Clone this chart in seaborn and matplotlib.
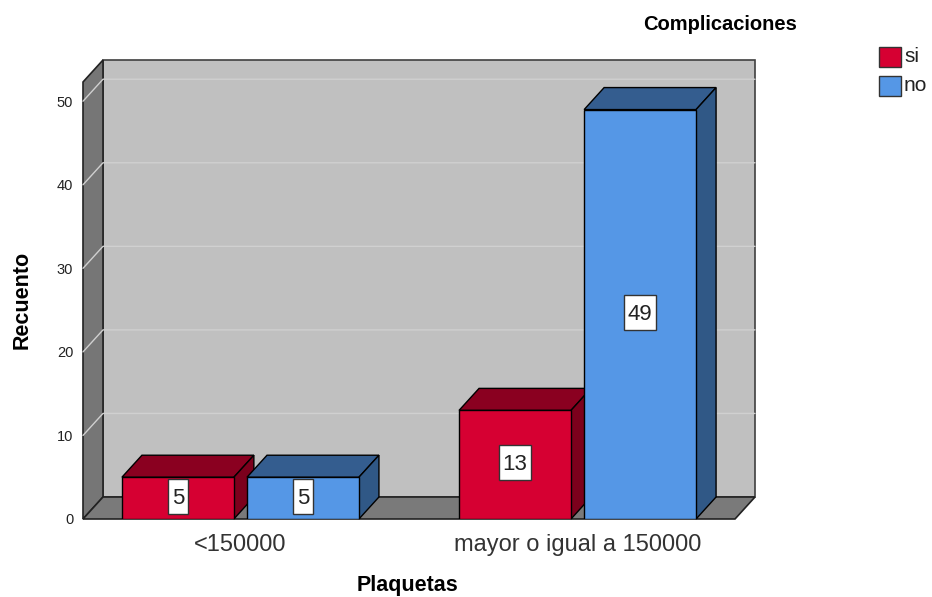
import matplotlib
matplotlib.use("Agg")
import matplotlib.pyplot as plt
from matplotlib.patches import Polygon, Rectangle
import seaborn as sns
import pandas as pd

# ---- data ----
plaquetas = ["<150000", "<150000", "mayor o igual a 150000", "mayor o igual a 150000"]
complicaciones = ["si", "no", "si", "no"]
recuento = [5, 5, 13, 49]
hue_order = ["si", "no"]
categories = ["<150000", "mayor o igual a 150000"]
y_ticks = [0, 10, 20, 30, 40, 50]

df = pd.DataFrame({"Plaquetas": plaquetas,
                   "Complicaciones": complicaciones,
                   "Recuento": recuento})

face = {"si": "#d60032", "no": "#5597e6"}
top_col = {"si": "#8a0020", "no": "#345d8f"}
side_col = {"si": "#7c001c", "no": "#305886"}

sns.set_theme(style="white")
plt.rcParams["font.family"] = ["Liberation Sans", "DejaVu Sans"]

W, H = 932, 597
fig = plt.figure(figsize=(W / 100, H / 100), dpi=100)

# front plane of the 3D box in pixels
px_l, px_r, py_b, py_t = 83, 735, 519, 82
ax = fig.add_axes([px_l / W, 1 - py_b / H, (px_r - px_l) / W, (py_b - py_t) / H])
ax.set_facecolor("none")

sns.barplot(data=df, x="Plaquetas", y="Recuento", hue="Complicaciones",
            order=categories, hue_order=hue_order, palette=face, saturation=1,
            width=0.742, gap=0.105, edgecolor="black", linewidth=1.0,
            legend=False, ax=ax)

x0, x1 = -0.467, 1.467
ytop = 52.3
ax.set_xlim(x0, x1)
ax.set_ylim(0, ytop)

# depth offset (data units): 20 px right, 22 px up
dx = 20 / (px_r - px_l) * (x1 - x0)
dy = 22 / (py_b - py_t) * ytop

wall_kw = dict(clip_on=False, zorder=0.5)
# back wall
ax.add_patch(Rectangle((x0 + dx, dy), (x1 - x0), ytop, facecolor="#c0c0c0",
                       edgecolor="#404040", linewidth=1.2, **wall_kw))
# left wall
ax.add_patch(Polygon([(x0, 0), (x0, ytop), (x0 + dx, ytop + dy), (x0 + dx, dy)],
                     closed=True, facecolor="#767676", edgecolor="#222222",
                     linewidth=1.2, **wall_kw))
# grid lines on left and back walls
for v in y_ticks[1:]:
    ax.plot([x0, x0 + dx, x1 + dx], [v, v + dy, v + dy], color="#d0d0d0",
            linewidth=1.0, clip_on=False, zorder=0.6)
# floor
ax.add_patch(Polygon([(x0, 0), (x1, 0), (x1 + dx, dy), (x0 + dx, dy)],
                     closed=True, facecolor="#7a7a7a", edgecolor="#222222",
                     linewidth=1.2, clip_on=False, zorder=0.7))

bars = sorted([p for p in ax.patches if isinstance(p, Rectangle) and p.get_height() > 0
               and p.get_width() < 0.5], key=lambda p: p.get_x())
hues_sorted = [h for _ in categories for h in hue_order]

labels = []
for i, (bar, hue) in enumerate(zip(bars, hues_sorted)):
    z = 2 + i
    bx, bw, bh = bar.get_x(), bar.get_width(), bar.get_height()
    bar.set_zorder(z + 0.3)
    ax.add_patch(Polygon([(bx, bh), (bx + dx, bh + dy), (bx + bw + dx, bh + dy), (bx + bw, bh)],
                         closed=True, facecolor=top_col[hue], edgecolor="black",
                         linewidth=1.0, clip_on=False, zorder=z))
    ax.add_patch(Polygon([(bx + bw, 0), (bx + bw, bh), (bx + bw + dx, bh + dy), (bx + bw + dx, dy)],
                         closed=True, facecolor=side_col[hue], edgecolor="black",
                         linewidth=1.0, clip_on=False, zorder=z))
    t = ax.text(bx + bw / 2, bh / 2, f"{bh:g}", ha="center", va="center",
                fontsize=16, color="#222222", zorder=z + 0.6)
    labels.append((t, z))

ax.set_yticks(y_ticks)
ax.set_yticklabels([str(t) for t in y_ticks], fontsize=10.5, color="#222222")
ax.tick_params(axis="y", length=0, pad=7)
ax.tick_params(axis="x", length=0, pad=11, labelsize=17, labelcolor="#333333")
for s in ax.spines.values():
    s.set_visible(False)
ax.set_xlabel("")
ax.set_ylabel("")

# white label boxes sized around each value text (pixel padding)
fig.canvas.draw()
renderer = fig.canvas.get_renderer()
inv = ax.transData.inverted()
for t, z in labels:
    ext = t.get_window_extent(renderer)
    cx, cy = (ext.x0 + ext.x1) / 2, (ext.y0 + ext.y1) / 2 + 2
    bw_px, bh_px = ext.width + 8, 35
    (ax0, ay0) = inv.transform((cx - bw_px / 2, cy - bh_px / 2))
    (ax1, ay1) = inv.transform((cx + bw_px / 2, cy + bh_px / 2))
    ax.add_patch(Rectangle((ax0, ay0), ax1 - ax0, ay1 - ay0, facecolor="white",
                           edgecolor="#333333", linewidth=1.0, zorder=z + 0.5,
                           clip_on=False))

fig.text(22 / W, 1 - 300 / H, "Recuento", rotation=90, ha="center", va="center",
         fontsize=15.5, fontweight="bold", color="black")
fig.text(408 / W, 1 - 585 / H, "Plaquetas", ha="center", va="center",
         fontsize=15.5, fontweight="bold", color="black")
fig.text(720 / W, 1 - 24 / H, "Complicaciones", ha="center", va="center",
         fontsize=14.5, fontweight="bold", color="black")

# legend
for j, h in enumerate(hue_order):
    yt = 47 + j * 28.5
    fig.patches.append(Rectangle((879 / W, 1 - (yt + 20) / H), 22 / W, 20 / H,
                                 transform=fig.transFigure, facecolor=face[h],
                                 edgecolor="#333333", linewidth=1.0))
    fig.text(904 / W, 1 - (yt + 10) / H, h, ha="left", va="center",
             fontsize=15, color="#222222")

fig.savefig("out.png", dpi=100, facecolor="white")
